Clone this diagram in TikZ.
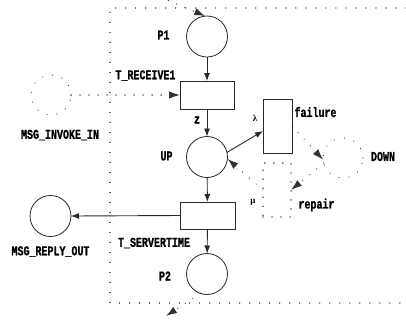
\documentclass[tikz,border=0pt]{standalone}
\usepackage{fontspec}
\setmonofont{Liberation Mono}[FakeStretch=0.74,FakeBold=1.2]
\newfontfamily\greekfont{Liberation Serif}
\usetikzlibrary{arrows.meta}
\definecolor{linec}{RGB}{40,40,40}
\definecolor{dotc}{RGB}{50,50,50}
\tikzset{
  place/.style={circle, draw=linec, line width=0.8pt, minimum size=41pt, inner sep=0pt, outer sep=0pt},
  dplace/.style={circle, draw=dotc, line width=1.2pt, dash pattern=on 0.01pt off 10pt, line cap=round, minimum size=40pt, inner sep=0pt, outer sep=0pt},
  trans/.style={rectangle, draw=linec, line width=0.8pt, inner sep=0pt, outer sep=0pt},
  dtrans/.style={rectangle, draw=dotc, line width=1.3pt, dash pattern=on 0.01pt off 9pt, line cap=round, inner sep=0pt, outer sep=0pt},
  sarrow/.style={draw=linec, line width=0.9pt, -{Latex[length=8pt,width=6pt]}},
  darrow/.style={draw=dotc, line width=1.3pt, dash pattern=on 0.01pt off 9pt, line cap=round, -{Latex[length=11pt,width=7.5pt]}},
  dframe/.style={draw=dotc, line width=1.1pt, dash pattern=on 0.01pt off 10pt, line cap=round},
  lbl/.style={inner sep=0pt, font=\ttfamily\bfseries\fontsize{13.5}{14}\selectfont},
  glbl/.style={inner sep=0pt, font=\greekfont\bfseries\fontsize{9}{10}\selectfont}
}
\begin{document}
\begin{tikzpicture}[x=1pt,y=-1pt]
\useasboundingbox (0,0) rectangle (406,322);
% frame
\draw[dframe] (406,8) -- (110,8) -- (110,303) -- (406,303);
% places and transitions
\node[place] (P1) at (207,36.5) {};
\node[trans, minimum width=54pt, minimum height=28pt] (TR) at (207,95) {};
\node[place] (UP) at (207,157) {};
\node[trans, minimum width=55pt, minimum height=27pt] (TS) at (207.5,215.5) {};
\node[place] (P2) at (207,274) {};
\node[trans, minimum width=29pt, minimum height=54pt] (failure) at (277.5,126) {};
\node[dtrans, minimum width=28pt, minimum height=54pt] (repair) at (277,190) {};
\node[dplace] (DOWN) at (343,158) {};
\node[dplace] (MI) at (51,95) {};
\node[place] (MO) at (50.5,216) {};
\coordinate (topin) at (160,-3);
\coordinate (botout) at (166,316);
% arcs
\draw[sarrow] (P1) -- (TR);
\draw[darrow] (MI) -- (TR.west);
\draw[sarrow] (TR) -- (UP);
\draw[sarrow] (UP.13) -- ([yshift=-5pt]failure.west);
\draw[darrow] (failure.east) -- (DOWN.185);
\draw[darrow] (DOWN.195) -- (repair.east);
\draw[darrow] (repair.west) -- (UP.-5);
\draw[sarrow] (UP) -- (TS);
\draw[sarrow] (TS.west) -- (MO.east);
\draw[sarrow] (TS) -- (P2);
\draw[darrow] (topin) -- (P1.95);
\draw[darrow] (P2.-109) -- (botout);
% labels
\node[lbl] (lP1) at (163.5,35) {P1};
\node[lbl] (lTR) at (145.5,75.5) {T\_RECEIVE1};
\node[lbl] (lMI) at (60,135) {MSG\_INVOKE\_IN};
\node[lbl] (lz) at (197,120) {z};
\node[glbl] (llam) at (255,118) {λ};
\node[lbl] (lfail) at (315.5,112) {failure};
\node[lbl] (lUP) at (166.5,156) {UP};
\node[lbl] (lDOWN) at (383,156.5) {DOWN};
\node[glbl] (lmu) at (253,202) {μ};
\node[lbl] (lrep) at (316.5,205) {repair};
\node[lbl] (lMO) at (50.5,251.5) {MSG\_REPLY\_OUT};
\node[lbl] (lTS) at (154,243) {T\_SERVERTIME};
\node[lbl] (lP2) at (165,276) {P2};
\end{tikzpicture}
\end{document}
